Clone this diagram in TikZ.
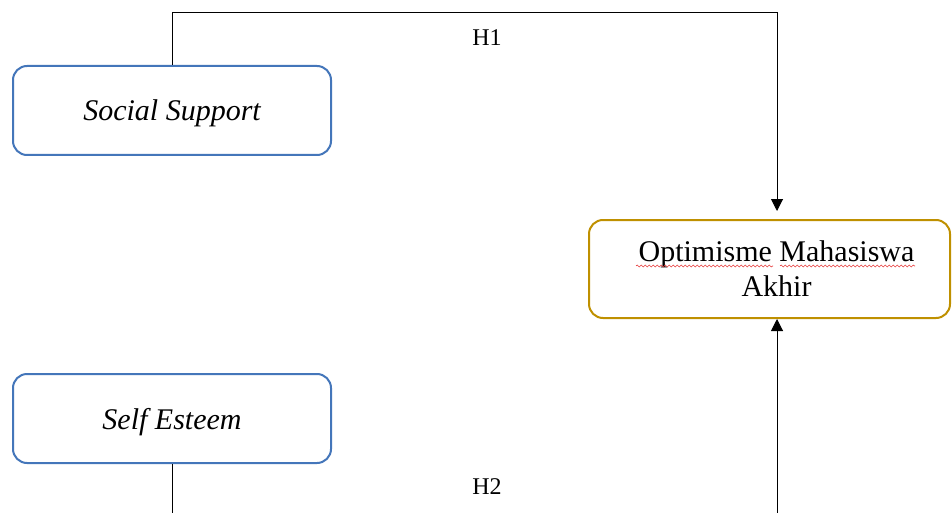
\documentclass[tikz,border=0pt]{standalone}
\usepackage{fontspec}
\setmainfont{Liberation Serif}
\usetikzlibrary{arrows.meta,decorations.pathmorphing}
\definecolor{boxblue}{RGB}{68,118,186}
\definecolor{boxgold}{RGB}{191,144,0}
\definecolor{spellred}{RGB}{230,60,60}
\tikzset{
  x=1pt, y=-1pt,
  varbox/.style={draw=boxblue, line width=2pt, rounded corners=14pt, fill=white,
    minimum width=318pt, minimum height=89pt, inner sep=0pt},
  vartext/.style={inner sep=0pt, anchor=base, font=\fontsize{30}{35}\selectfont\itshape},
  depbox/.style={draw=boxgold, line width=2pt, rounded corners=14pt,
    minimum width=361pt, minimum height=98pt, inner sep=0pt},
  deptext/.style={align=center, inner sep=0pt, font=\fontsize{30}{35}\selectfont},
  hlabel/.style={inner sep=0pt, font=\fontsize{24}{28}\selectfont},
  conn/.style={draw=black, line width=1pt},
  arr/.style={conn, -{Triangle[width=12pt,length=12pt]}},
  squiggle/.style={draw=spellred, line width=0.6pt,
    decorate, decoration={snake, amplitude=1pt, segment length=4pt}}
}
\begin{document}
\begin{tikzpicture}
\useasboundingbox (0,0) rectangle (952,513);
\node[varbox] (ss) at (172,110.5) {};
\node[vartext] (sst) at (172,121) {Social Support};
\node[varbox] (se) at (172,418.5) {};
\node[vartext] (set) at (172,429) {Self Esteem};
\node[depbox] (opt) at (769.5,269) {};
\node[deptext] (optt) at (776.5,268.5) {Optimisme Mahasiswa\\Akhir};
\node[hlabel] (h1) at (487,38) {H1};
\node[hlabel] (h2) at (487,487) {H2};
\coordinate (top) at (172,13);
\coordinate (tipa) at (777,211);
\coordinate (tipb) at (777,319);
\coordinate (bl) at (172,513);
\coordinate (br) at (777,513);
\draw[arr] (ss.north) -- (top) -| (tipa);
\draw[conn] (se.south) -- (bl);
\draw[arr] (br) -- (tipb);
\draw[squiggle] (636,266) -- (773,266);
\draw[squiggle] (780,266) -- (915,266);
\end{tikzpicture}
\end{document}
